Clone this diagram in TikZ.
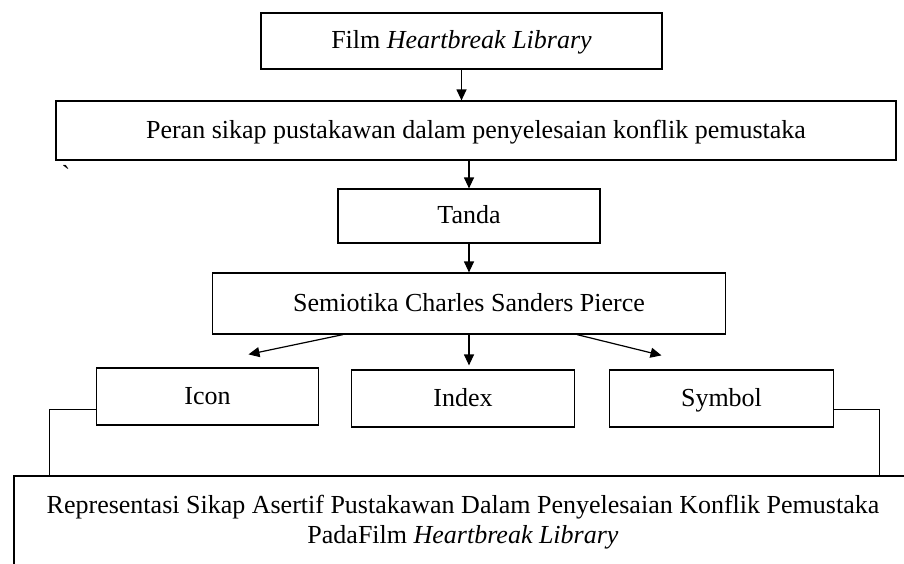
\documentclass[tikz,border=0pt]{standalone}
\usepackage{fontspec}
\setmainfont{Liberation Serif}
\usepackage{tikz}
\usetikzlibrary{arrows.meta, positioning}

\tikzset{
    kotak/.style={draw, line width=1.2pt, inner sep=2pt,
        font=\fontsize{26}{30}\selectfont},
    kotaksatu/.style={kotak, minimum height=57pt, text height=19.5pt, text depth=4.5pt},
    panah/.style={line width=1.2pt, -{Triangle[width=10pt,length=11pt]}},
    garis/.style={line width=1.2pt}
}

\begin{document}
\begin{tikzpicture}[x=1pt, y=1pt]
        \useasboundingbox (0,0) rectangle (904,-563);

        \node[kotaksatu, minimum width=401pt, minimum height=56pt] (film) at (461.5,-41) {Film \textit{Heartbreak Library}};
        \node[kotaksatu, minimum width=840pt, minimum height=59pt, below=30.8pt of film, xshift=14.5pt] (peran) {Peran sikap pustakawan dalam penyelesaian konflik pemustaka};
        \node[kotaksatu, minimum width=262pt, minimum height=54pt, below=27.8pt of peran, xshift=-7pt] (tanda) {Tanda};
        \node[kotaksatu, minimum width=513pt, minimum height=61pt, below=28.8pt of tanda] (semio) {Semiotika Charles Sanders Pierce};
        \node[kotaksatu, minimum width=223pt, below=34.8pt of semio, xshift=-6pt] (index) {Index};
        \node[kotaksatu, minimum width=222pt, left=31.8pt of index, yshift=2pt] (icon) {Icon};
        \node[kotaksatu, minimum width=224pt, right=33.8pt of index] (symbol) {Symbol};
        \node[kotak, minimum width=898pt, inner ysep=19pt, text depth=70pt, below=47.8pt of index, align=center] (hasil)
            {Representasi Sikap Asertif Pustakawan Dalam Penyelesaian Konflik Pemustaka\\
             PadaFilm \textit{Heartbreak Library}};

        \node[font=\fontsize{26}{30}\selectfont, inner sep=0pt] (tick) at (66,-174) {\textasciigrave};

        \draw[panah] (film.south) -- (film.south |- peran.north);
        \draw[panah] (tanda.north |- peran.south) -- (tanda.north);
        \draw[panah] (tanda.south) -- (tanda.south |- semio.north);

        \draw[panah] ([xshift=-126pt]semio.south) -- ([xshift=41pt, yshift=13pt]icon.north);
        \draw[panah] (semio.south) -- ([yshift=4pt]semio.south |- index.north);
        \draw[panah] ([xshift=108pt]semio.south) -- ([xshift=-60pt, yshift=14pt]symbol.north);

        \draw[garis] ([yshift=-13pt]icon.west) -| ([xshift=36pt]hasil.north west);
        \draw[garis] ([yshift=-11pt]symbol.east) -| ([xshift=866pt]hasil.north west);
    \end{tikzpicture}
\end{document}
